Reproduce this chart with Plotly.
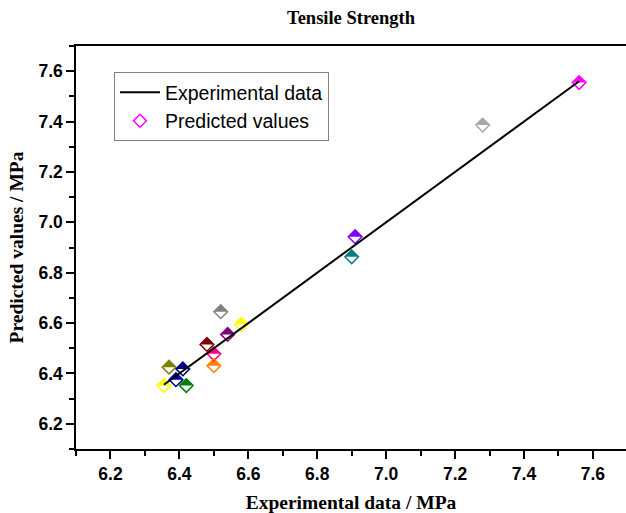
import plotly.graph_objects as go

# Data
experimental = [7.56, 7.28, 6.91, 6.90, 6.52, 6.58, 6.54, 6.48, 6.50, 6.50, 6.37, 6.41, 6.39, 6.42, 6.355]
predicted    = [7.555, 7.386, 6.943, 6.863, 6.645, 6.595, 6.555, 6.515, 6.478, 6.431, 6.425, 6.418, 6.375, 6.352, 6.352]
colors = ["#FF00FF", "#A8A8A8", "#8000FF", "#008080", "#808080", "#FFFF00", "#800080",
          "#800000", "#FF0080", "#FF8000", "#808000", "#000080", "#0000A0", "#008000", "#FFFF00"]

line_x = [min(experimental), max(experimental)]
line_y = line_x

x_range = [6.1, 7.696]
y_range = [6.1, 7.7]

fig = go.Figure()

# Predicted values: open diamonds
fig.add_trace(go.Scatter(
    x=experimental, y=predicted, mode="markers",
    marker=dict(symbol="diamond-open", size=10.5, color=colors, line=dict(width=1.5, color=colors)),
    showlegend=False, hoverinfo="skip"))

# Experimental data line
fig.add_trace(go.Scatter(
    x=line_x, y=line_y, mode="lines", line=dict(color="black", width=2),
    name="Experimental data"))

# Legend entry for predicted values
fig.add_trace(go.Scatter(
    x=[None], y=[None], mode="markers",
    marker=dict(symbol="diamond-open", size=10, color="#FF00FF", line=dict(width=1.5)),
    name="Predicted values"))

# Top-half fill of each diamond (pixel-sized shape anchored at the data point)
half = 6.8
for xv, yv, c in zip(experimental, predicted, colors):
    fig.add_shape(type="path", xref="x", yref="y", xsizemode="pixel", ysizemode="pixel",
                  xanchor=xv, yanchor=yv,
                  path=f"M{-half},0 L0,{half} L{half},0 Z",
                  fillcolor=c, line=dict(width=0), layer="below")

tickfont = dict(family="Liberation Sans, Arial", size=17.5, color="black", weight="bold")
titlefont = dict(family="Liberation Serif, Times New Roman", size=19.5, color="black", weight="bold")

fig.update_layout(
    width=626, height=513,
    margin=dict(l=76, r=0, t=46, b=64),
    paper_bgcolor="white", plot_bgcolor="white",
    title=dict(text="Tensile Strength", x=0.5, xref="paper", xanchor="center",
               y=0.965, yref="container", yanchor="middle",
               font=dict(family="Liberation Serif, Times New Roman", size=18.5, color="black", weight="bold")),
    legend=dict(x=0.069, y=0.935, xanchor="left", yanchor="top",
                bordercolor="#808080", borderwidth=1, bgcolor="rgba(255,255,255,0)",
                font=dict(family="Liberation Sans, Arial", size=19.5, color="black"),
                itemwidth=40, tracegroupgap=0),
    xaxis=dict(range=x_range, tickmode="linear", tick0=6.2, dtick=0.2, tickformat=".1f",
               ticks="outside", ticklen=8, tickwidth=1.5, tickcolor="black", automargin=False,
               minor=dict(ticks="outside", ticklen=5, tickwidth=1.5, tickcolor="black", dtick=0.1, tick0=6.1, showgrid=False),
               showline=True, linecolor="black", linewidth=1.5, mirror=True,
               showgrid=False, zeroline=False, tickfont=tickfont,
               title=dict(text="Experimental data / MPa", font=titlefont, standoff=20)),
    yaxis=dict(range=y_range, tickmode="linear", tick0=6.2, dtick=0.2, tickformat=".1f",
               ticks="outside", ticklen=8, tickwidth=1.5, tickcolor="black", automargin=False,
               minor=dict(ticks="outside", ticklen=5, tickwidth=1.5, tickcolor="black", dtick=0.1, tick0=6.1, showgrid=False),
               showline=True, linecolor="black", linewidth=1.5, mirror=False,
               showgrid=False, zeroline=False, tickfont=tickfont,
               title=dict(text="Predicted values / MPa", font=titlefont, standoff=10)),
)

fig.write_html("out.html")
